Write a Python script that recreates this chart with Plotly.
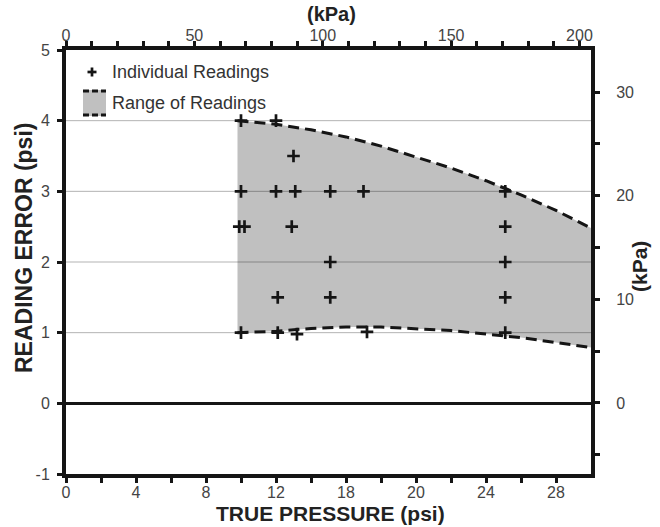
import plotly.graph_objects as go

# ---------------- data ----------------
# individual readings: true pressure (psi) vs reading error (psi)
READ_X = [10, 12, 13, 10, 12, 13.1, 15.1, 17, 9.9, 10.2, 12.9, 15.1, 12.1, 15.1,
          10, 12.1, 13.2, 17.2, 25.1, 25.1, 25.1, 25.1, 25.1]
READ_Y = [4, 4, 3.5, 3, 3, 3, 3, 3, 2.5, 2.5, 2.5, 2, 1.5, 1.5,
          1, 1, 0.98, 1.01, 3, 2.5, 2, 1.5, 1]

# range-of-readings envelope
ENV_X = [9.8, 12, 14, 16, 18, 20, 22, 24, 26, 28, 30]
ENV_UPPER = [4.0, 3.95, 3.87, 3.77, 3.64, 3.49, 3.33, 3.15, 2.95, 2.73, 2.48]
ENV_LOWER = [1.0, 1.02, 1.06, 1.08, 1.08, 1.06, 1.03, 0.98, 0.93, 0.86, 0.79]

# axes
X_TICKS = [0, 4, 8, 12, 16, 20, 24, 28]
X_TICK_TEXT = ["0", "4", "8", "12", "18", "20", "24", "28"]
Y_TICKS = [-1, 0, 1, 2, 3, 4, 5]
Y_TICK_TEXT = ["-1", "0", "1", "2", "3", "4", "5"]
GRID_Y = [1, 2, 3, 4]
KPA_X_TICKS = [0, 50, 100, 150, 200]
KPA_Y_TICKS = [0, 10, 20, 30]

# ---------------- styling ----------------
W, H = 660, 527
ML, MR, MT, MB = 66, 69, 50, 53
PW, PH = W - ML - MR, H - MT - MB
FONT = "Liberation Sans, Arial, sans-serif"
INK = "#151515"
TICKFONT = dict(family=FONT, size=16, color="#444444")


def title_font(size):
    return dict(family=FONT, size=size, color="#222222", weight="bold")


def px(xp):
    return (xp - ML) / PW


def py(yp):
    return 1 - (yp - MT) / PH


fig = go.Figure()

# shaded range
fig.add_trace(go.Scatter(x=ENV_X, y=ENV_LOWER, mode="lines", line=dict(width=0),
                         showlegend=False, hoverinfo="skip"))
fig.add_trace(go.Scatter(x=ENV_X, y=ENV_UPPER, mode="lines", line=dict(width=0),
                         fill="tonexty", fillcolor="#c0c0c0", showlegend=False,
                         name="Range of Readings"))

# grid lines drawn above the shading
gx, gy = [], []
for g in GRID_Y:
    gx += [0, 30, None]
    gy += [g, g, None]
fig.add_trace(go.Scatter(x=gx, y=gy, mode="lines",
                         line=dict(color="rgba(0,0,0,0.30)", width=1),
                         showlegend=False, hoverinfo="skip"))

# dashed envelope curves
for arr in (ENV_UPPER, ENV_LOWER):
    fig.add_trace(go.Scatter(x=ENV_X, y=arr, mode="lines",
                             line=dict(color=INK, width=3, dash="11px,6px"),
                             showlegend=False, hoverinfo="skip"))

# individual readings
fig.add_trace(go.Scatter(x=READ_X, y=READ_Y, mode="markers",
                         marker=dict(symbol="cross-thin", size=9,
                                     line=dict(color=INK, width=2.7)),
                         showlegend=False, name="Individual Readings"))

# invisible trace to activate secondary axes
fig.add_trace(go.Scatter(x=[0], y=[0], xaxis="x2", yaxis="y2", mode="markers",
                         marker=dict(opacity=0), showlegend=False, hoverinfo="skip"))

axis_common = dict(showline=True, linewidth=4, linecolor=INK, ticks="outside",
                   ticklen=5, tickwidth=3, tickcolor=INK, showgrid=False,
                   tickfont=TICKFONT, zeroline=False, automargin=False)

fig.update_layout(
    width=W, height=H,
    margin=dict(l=ML, r=MR, t=MT, b=MB, autoexpand=False),
    paper_bgcolor="white", plot_bgcolor="white",
    showlegend=False,
    xaxis=dict(range=[0, 30], tickmode="array", tickvals=X_TICKS, ticktext=X_TICK_TEXT,
               ticklabelstandoff=-4,
               minor=dict(tickmode="array", tickvals=list(range(2, 30, 4)),
                          ticks="outside", ticklen=5, tickwidth=3, tickcolor=INK),
               **axis_common),
    xaxis2=dict(range=[0, 204.5], overlaying="x", side="top", tickmode="array",
                tickvals=KPA_X_TICKS, ticklabelstandoff=-6,
                minor=dict(tickmode="array", tickvals=[v for v in range(10, 201, 10) if v % 50],
                           ticks="outside", ticklen=5, tickwidth=3, tickcolor=INK),
                **axis_common),
    yaxis=dict(range=[-1, 5], tickmode="array", tickvals=Y_TICKS, ticktext=Y_TICK_TEXT,
               ticklabelstandoff=4,
               **{**axis_common, "zeroline": True},
               zerolinecolor=INK, zerolinewidth=3),
    yaxis2=dict(range=[-6.86, 34.07], overlaying="y", side="right", tickmode="array",
                tickvals=KPA_Y_TICKS, ticklabelstandoff=13,
                minor=dict(tickmode="array", tickvals=[-5, 5, 15, 25],
                           ticks="outside", ticklen=5, tickwidth=3, tickcolor=INK),
                **axis_common),
)

# ---------------- axis titles ----------------
titles = [
    ("TRUE PRESSURE (psi)", 330, 513, 0, 21),
    ("(kPa)", 331, 14, 0, 20),
    ("READING ERROR (psi)", 24, 248, -90, 23),
    ("(kPa)", 639, 267, -90, 21),
]
for txt, xx, yy, ang, sz in titles:
    fig.add_annotation(x=px(xx), y=py(yy), xref="paper", yref="paper", text=txt,
                       showarrow=False, xanchor="center", yanchor="middle",
                       textangle=ang, font=title_font(sz))

# ---------------- legend (drawn manually) ----------------
shapes = []
cx, cy = 92, 72
shapes.append(dict(type="line", xref="paper", yref="paper",
                   x0=px(cx - 4.5), x1=px(cx + 4.5), y0=py(cy), y1=py(cy),
                   line=dict(color=INK, width=2.7)))
shapes.append(dict(type="line", xref="paper", yref="paper",
                   x0=px(cx), x1=px(cx), y0=py(cy - 4.5), y1=py(cy + 4.5),
                   line=dict(color=INK, width=2.7)))
bx0, bx1, by0, by1 = 83, 106, 90, 116
shapes.append(dict(type="rect", xref="paper", yref="paper",
                   x0=px(bx0), x1=px(bx1), y0=py(by1), y1=py(by0),
                   fillcolor="#c0c0c0", line=dict(width=0)))
for yy in (by0 + 1, by1 - 1):
    shapes.append(dict(type="line", xref="paper", yref="paper",
                       x0=px(bx0), x1=px(bx1), y0=py(yy), y1=py(yy),
                       line=dict(color=INK, width=3, dash="6px,3px")))
fig.update_layout(shapes=shapes)

for txt, yy in (("Individual Readings", 72), ("Range of Readings", 103)):
    fig.add_annotation(x=px(110), y=py(yy), xref="paper", yref="paper",
                       text=txt, showarrow=False, xanchor="left", yanchor="middle",
                       font=dict(family=FONT, size=18, color="#333333"))

fig.write_html("out.html", config={"displayModeBar": False},
               post_script="document.body.style.margin='0';document.body.style.padding='0';")
